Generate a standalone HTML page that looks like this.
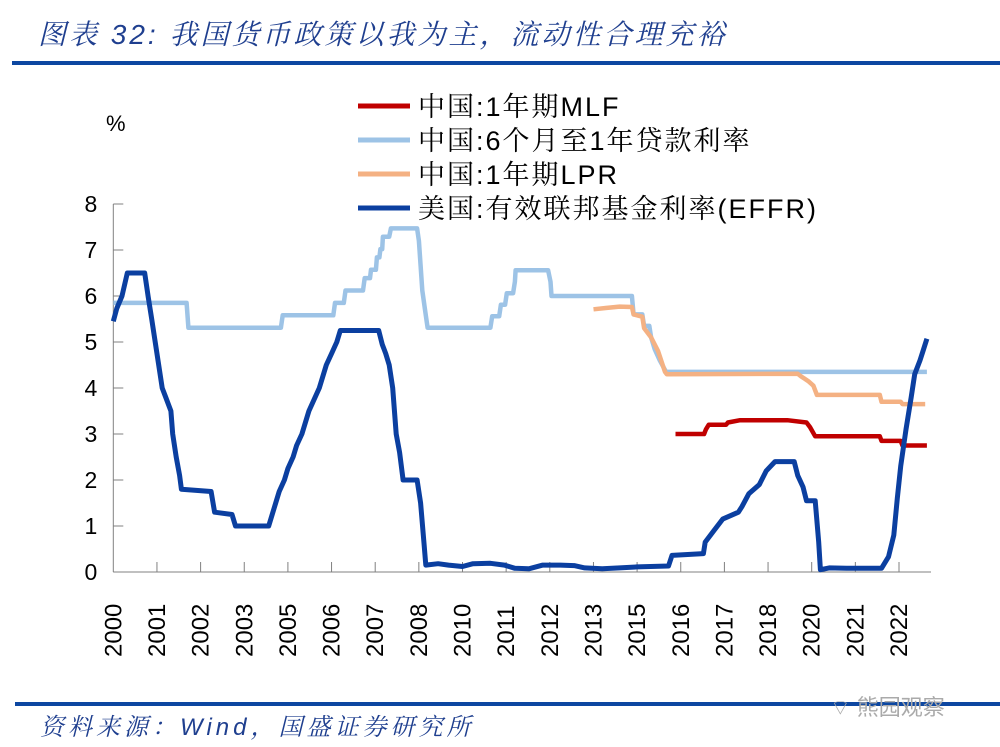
<!DOCTYPE html>
<html><head><meta charset="utf-8">
<style>
body{margin:0;background:#fff;width:1000px;height:747px;overflow:hidden;position:relative;font-family:"Liberation Sans","Noto Sans CJK SC",sans-serif}
.title{position:absolute;left:38px;top:13px;font-size:28px;font-style:italic;color:#1f3f8f;letter-spacing:3px;white-space:nowrap;font-family:"Liberation Sans","Noto Serif CJK SC",serif}
.rule{position:absolute;left:12px;width:988px;height:4px;background:#0d47a1}
.src{position:absolute;left:40px;top:707px;font-size:24px;font-style:italic;color:#1f3f8f;white-space:nowrap;letter-spacing:4px;font-family:"Liberation Sans","Noto Serif CJK SC",serif}
.wm{position:absolute;left:830px;top:690px;font-size:22px;color:#aaa;white-space:nowrap}
</style></head><body>
<div class="title">图表 32:  我国货币政策以我为主，流动性合理充裕</div>
<div class="rule" style="top:61px"></div>
<div class="rule" style="top:702px;left:15px;width:985px"></div>
<div class="src">资料来源：Wind，国盛证券研究所</div>
<div class="wm">⌔ 熊园观察</div>
<svg id="chart" width="1000" height="747" style="position:absolute;left:0;top:0"></svg>
<script>
const yTicks=[0,1,2,3,4,5,6,7,8];
const xTickLabels=["2000","2001","2002","2003","2005","2006","2007","2008","2010","2011","2012","2013","2015","2016","2017","2018","2020","2021","2022"];
const xTickTimes=[2000,2001.25,2002.5,2003.75,2005,2006.25,2007.5,2008.75,2010,2011.25,2012.5,2013.75,2015,2016.25,2017.5,2018.75,2020,2021.25,2022.5];
const effr=[[2000.0,5.45],[2000.1,5.73],[2000.25,6.0],[2000.4,6.5],[2000.9,6.5],[2001.0,5.98],[2001.1,5.5],[2001.2,5.0],[2001.3,4.5],[2001.4,4.0],[2001.5,3.8],[2001.65,3.5],[2001.7,3.0],[2001.8,2.5],[2001.9,2.1],[2001.95,1.8],[2002.8,1.75],[2002.9,1.3],[2003.4,1.25],[2003.5,1.0],[2004.45,1.0],[2004.55,1.25],[2004.65,1.5],[2004.75,1.75],[2004.9,2.0],[2005.0,2.25],[2005.15,2.5],[2005.25,2.75],[2005.4,3.0],[2005.5,3.25],[2005.6,3.5],[2005.75,3.75],[2005.9,4.0],[2006.0,4.25],[2006.1,4.5],[2006.25,4.75],[2006.4,5.0],[2006.5,5.25],[2007.6,5.25],[2007.7,4.95],[2007.8,4.75],[2007.9,4.5],[2008.0,4.0],[2008.1,3.0],[2008.2,2.6],[2008.3,2.0],[2008.7,2.0],[2008.8,1.5],[2008.9,0.6],[2008.95,0.15],[2009.3,0.18],[2009.6,0.15],[2010.0,0.12],[2010.3,0.18],[2010.8,0.19],[2011.2,0.15],[2011.5,0.08],[2011.9,0.07],[2012.3,0.15],[2012.8,0.15],[2013.2,0.14],[2013.5,0.09],[2014.0,0.07],[2014.5,0.09],[2015.0,0.11],[2015.9,0.13],[2016.0,0.36],[2016.9,0.4],[2016.95,0.65],[2017.2,0.9],[2017.45,1.15],[2017.9,1.3],[2018.0,1.42],[2018.2,1.7],[2018.5,1.9],[2018.7,2.2],[2018.95,2.4],[2019.5,2.4],[2019.6,2.1],[2019.75,1.85],[2019.85,1.55],[2020.1,1.55],[2020.2,0.65],[2020.25,0.05],[2020.5,0.09],[2021.0,0.08],[2021.5,0.08],[2022.0,0.08],[2022.2,0.33],[2022.35,0.8],[2022.45,1.6],[2022.55,2.3],[2022.7,3.1],[2022.85,3.8],[2022.95,4.3],[2023.1,4.6],[2023.2,4.83],[2023.3,5.07]];
const loan=[[2000.0,5.85],[2002.1,5.85],[2002.15,5.31],[2004.8,5.31],[2004.85,5.58],[2006.3,5.58],[2006.35,5.85],[2006.6,5.85],[2006.65,6.12],[2007.15,6.12],[2007.2,6.39],[2007.35,6.39],[2007.38,6.57],[2007.52,6.57],[2007.55,6.84],[2007.62,6.84],[2007.65,7.02],[2007.7,7.02],[2007.72,7.29],[2007.9,7.29],[2007.95,7.47],[2008.7,7.47],[2008.75,7.2],[2008.8,6.66],[2008.85,6.12],[2008.95,5.58],[2009.0,5.31],[2010.8,5.31],[2010.85,5.56],[2011.05,5.56],[2011.1,5.81],[2011.22,5.81],[2011.27,6.06],[2011.45,6.06],[2011.5,6.31],[2011.52,6.56],[2012.45,6.56],[2012.52,6.31],[2012.55,6.0],[2014.85,6.0],[2014.9,5.6],[2015.15,5.6],[2015.2,5.35],[2015.35,5.35],[2015.4,5.1],[2015.5,4.85],[2015.65,4.6],[2015.83,4.35],[2023.3,4.35]];
const lpr=[[2013.75,5.71],[2014.1,5.74],[2014.5,5.77],[2014.85,5.76],[2014.9,5.6],[2015.15,5.55],[2015.2,5.3],[2015.4,5.1],[2015.6,4.8],[2015.8,4.35],[2015.85,4.3],[2019.6,4.31],[2019.7,4.25],[2019.8,4.2],[2019.9,4.15],[2020.05,4.05],[2020.15,3.85],[2021.95,3.85],[2022.0,3.7],[2022.55,3.7],[2022.6,3.65],[2023.25,3.65]];
const mlf=[[2016.1,3.0],[2016.92,3.0],[2016.97,3.1],[2017.05,3.2],[2017.55,3.2],[2017.6,3.25],[2017.95,3.3],[2019.3,3.3],[2019.85,3.25],[2019.95,3.15],[2020.1,2.95],[2021.95,2.95],[2022.0,2.85],[2022.55,2.85],[2022.6,2.75],[2023.3,2.75]];

const X0=113.3,PXY=34.92,Y0=572,PXU=46;
const xs=t=>X0+(t-2000)*PXY;
const ys=v=>Y0-v*PXU;
const svg=document.getElementById('chart');
const NS='http://www.w3.org/2000/svg';
function mk(tag,attrs){const e=document.createElementNS(NS,tag);for(const k in attrs)e.setAttribute(k,attrs[k]);svg.appendChild(e);return e;}
let ax=mk('line',{x1:X0,y1:ys(8),x2:X0,y2:Y0,stroke:'#808080','stroke-width':1});


let bx=mk('line',{x1:X0,y1:Y0,x2:931,y2:Y0,stroke:'#808080','stroke-width':1});


yTicks.forEach(v=>{
  let t=mk('line',{x1:X0,y1:ys(v),x2:X0+10,y2:ys(v),stroke:'#808080','stroke-width':1});
  
  
  let l=mk('text',{x:X0-16,y:ys(v)+8,'text-anchor':'end','font-size':23,fill:'#000','font-family':'Liberation Sans,sans-serif'});
  l.textContent=v;
  
  
});
xTickTimes.forEach((t,i)=>{
  const x=xs(t);
  if(i>0){let tk=mk('line',{x1:x,y1:Y0,x2:x,y2:Y0-10,stroke:'#808080','stroke-width':1});
  
  }
  let l=mk('text',{x:0,y:0,transform:`translate(${x+8},657) rotate(-90)`,'font-size':24,fill:'#000','font-family':'Liberation Sans,sans-serif'});
  l.textContent=xTickLabels[i];
  
  
});
let pc=mk('text',{x:106,y:131,'font-size':22,fill:'#000','font-family':'Liberation Sans,sans-serif'});
pc.textContent='%';


function line(data,color,w,name){
  const d=data.map((p,i)=>(i?'L':'M')+xs(p[0]).toFixed(1)+','+ys(p[1]).toFixed(1)).join('');
  let p=mk('path',{d:d,fill:'none',stroke:color,'stroke-width':w,'stroke-linejoin':'round'});
  
  
}
line(loan,'#9dc3e6',4.5,'loan-rate-line');
line(lpr,'#f4b183',4.5,'lpr-line');
line(mlf,'#c00000',4.5,'mlf-line');
line(effr,'#0b3fa0',5,'effr-line');
const leg=[['中国:1年期MLF','#c00000'],['中国:6个月至1年贷款利率','#9dc3e6'],['中国:1年期LPR','#f4b183'],['美国:有效联邦基金利率(EFFR)','#0b3fa0']];
leg.forEach((L,i)=>{
  const y=106+i*34;
  let s=mk('line',{x1:358,y1:y,x2:410,y2:y,stroke:L[1],'stroke-width':5});
  
  
  let t=mk('text',{x:418,y:y+10,'font-size':27,'letter-spacing':2,fill:'#000','font-family':'Liberation Sans,Noto Serif CJK SC,serif'});
  t.textContent=L[0];
  
  
});
</script>
</body></html>
